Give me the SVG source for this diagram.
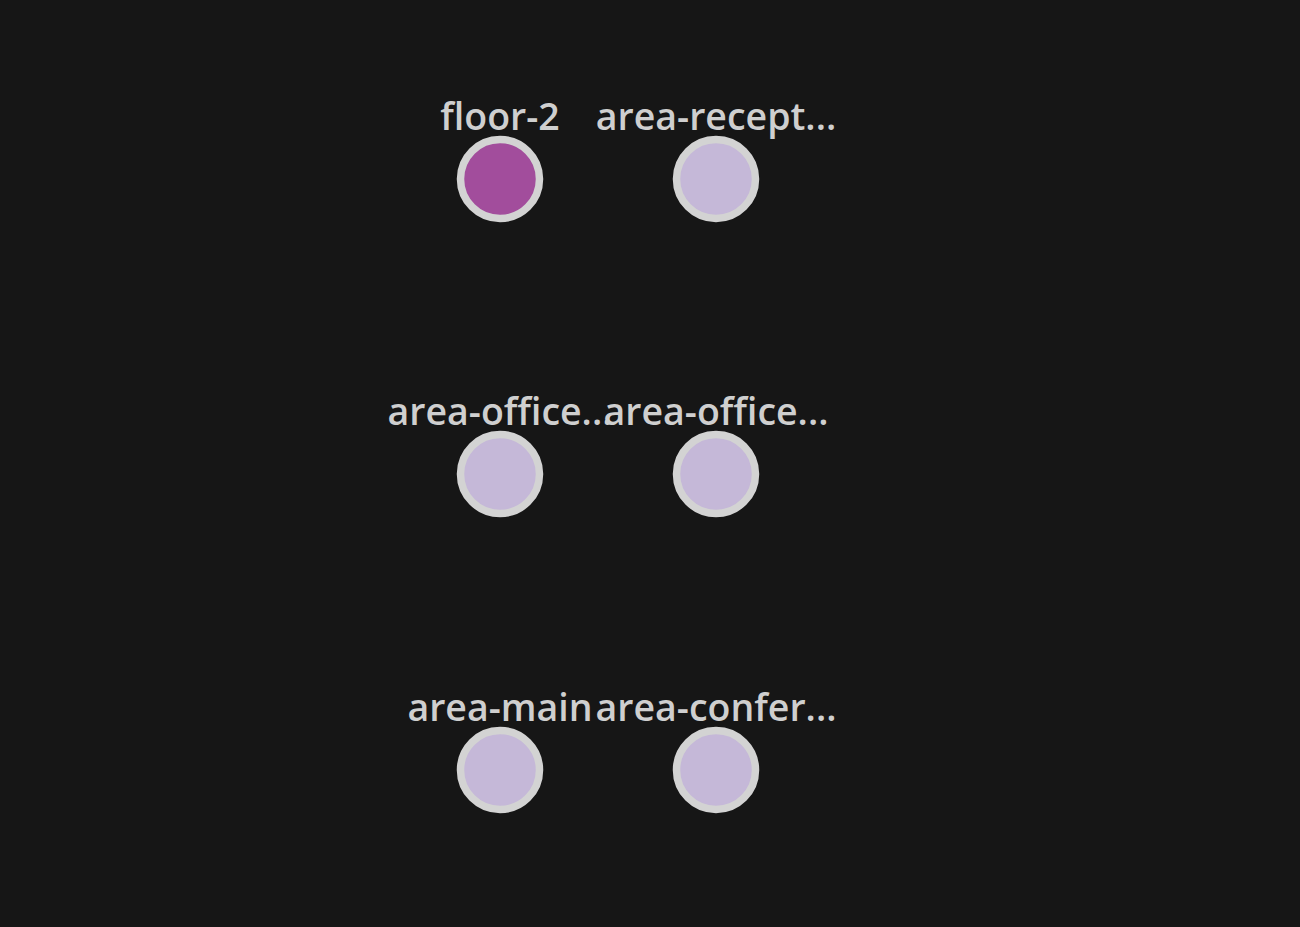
<svg xmlns="http://www.w3.org/2000/svg" width="1300" height="927" viewBox="0 0 1300 927">
<style>
.bg{fill:#161616}
.node circle{stroke:#d3d3d3;stroke-width:7.5}
.lbl{font-family:"Open Sans","Noto Sans",sans-serif;font-weight:600;font-size:37.5px;fill:#cfcfcf;text-anchor:middle}
.main{fill:#a24d9c}
.sub{fill:#c5b8d8}
</style>
<rect class="bg" x="0" y="0" width="1300" height="927"/>
<g id="connectors"></g>
<g id="floor-2" class="node"><circle class="main" cx="500" cy="179" r="39.5"/><text class="lbl" x="500" y="130">floor-2</text></g>
<g id="area-reception" class="node"><circle class="sub" cx="716" cy="179" r="39.5"/><text class="lbl" x="716" y="130">area-recept...</text></g>
<g id="area-office-1" class="node"><circle class="sub" cx="500" cy="474" r="39.5"/><text class="lbl" x="500" y="425">area-office...</text></g>
<g id="area-office-2" class="node"><circle class="sub" cx="716" cy="474" r="39.5"/><text class="lbl" x="716" y="425">area-office...</text></g>
<g id="area-main" class="node"><circle class="sub" cx="500" cy="770" r="39.5"/><text class="lbl" x="500" y="721">area-main</text></g>
<g id="area-conference" class="node"><circle class="sub" cx="716" cy="770" r="39.5"/><text class="lbl" x="716" y="721">area-confer...</text></g>
</svg>
